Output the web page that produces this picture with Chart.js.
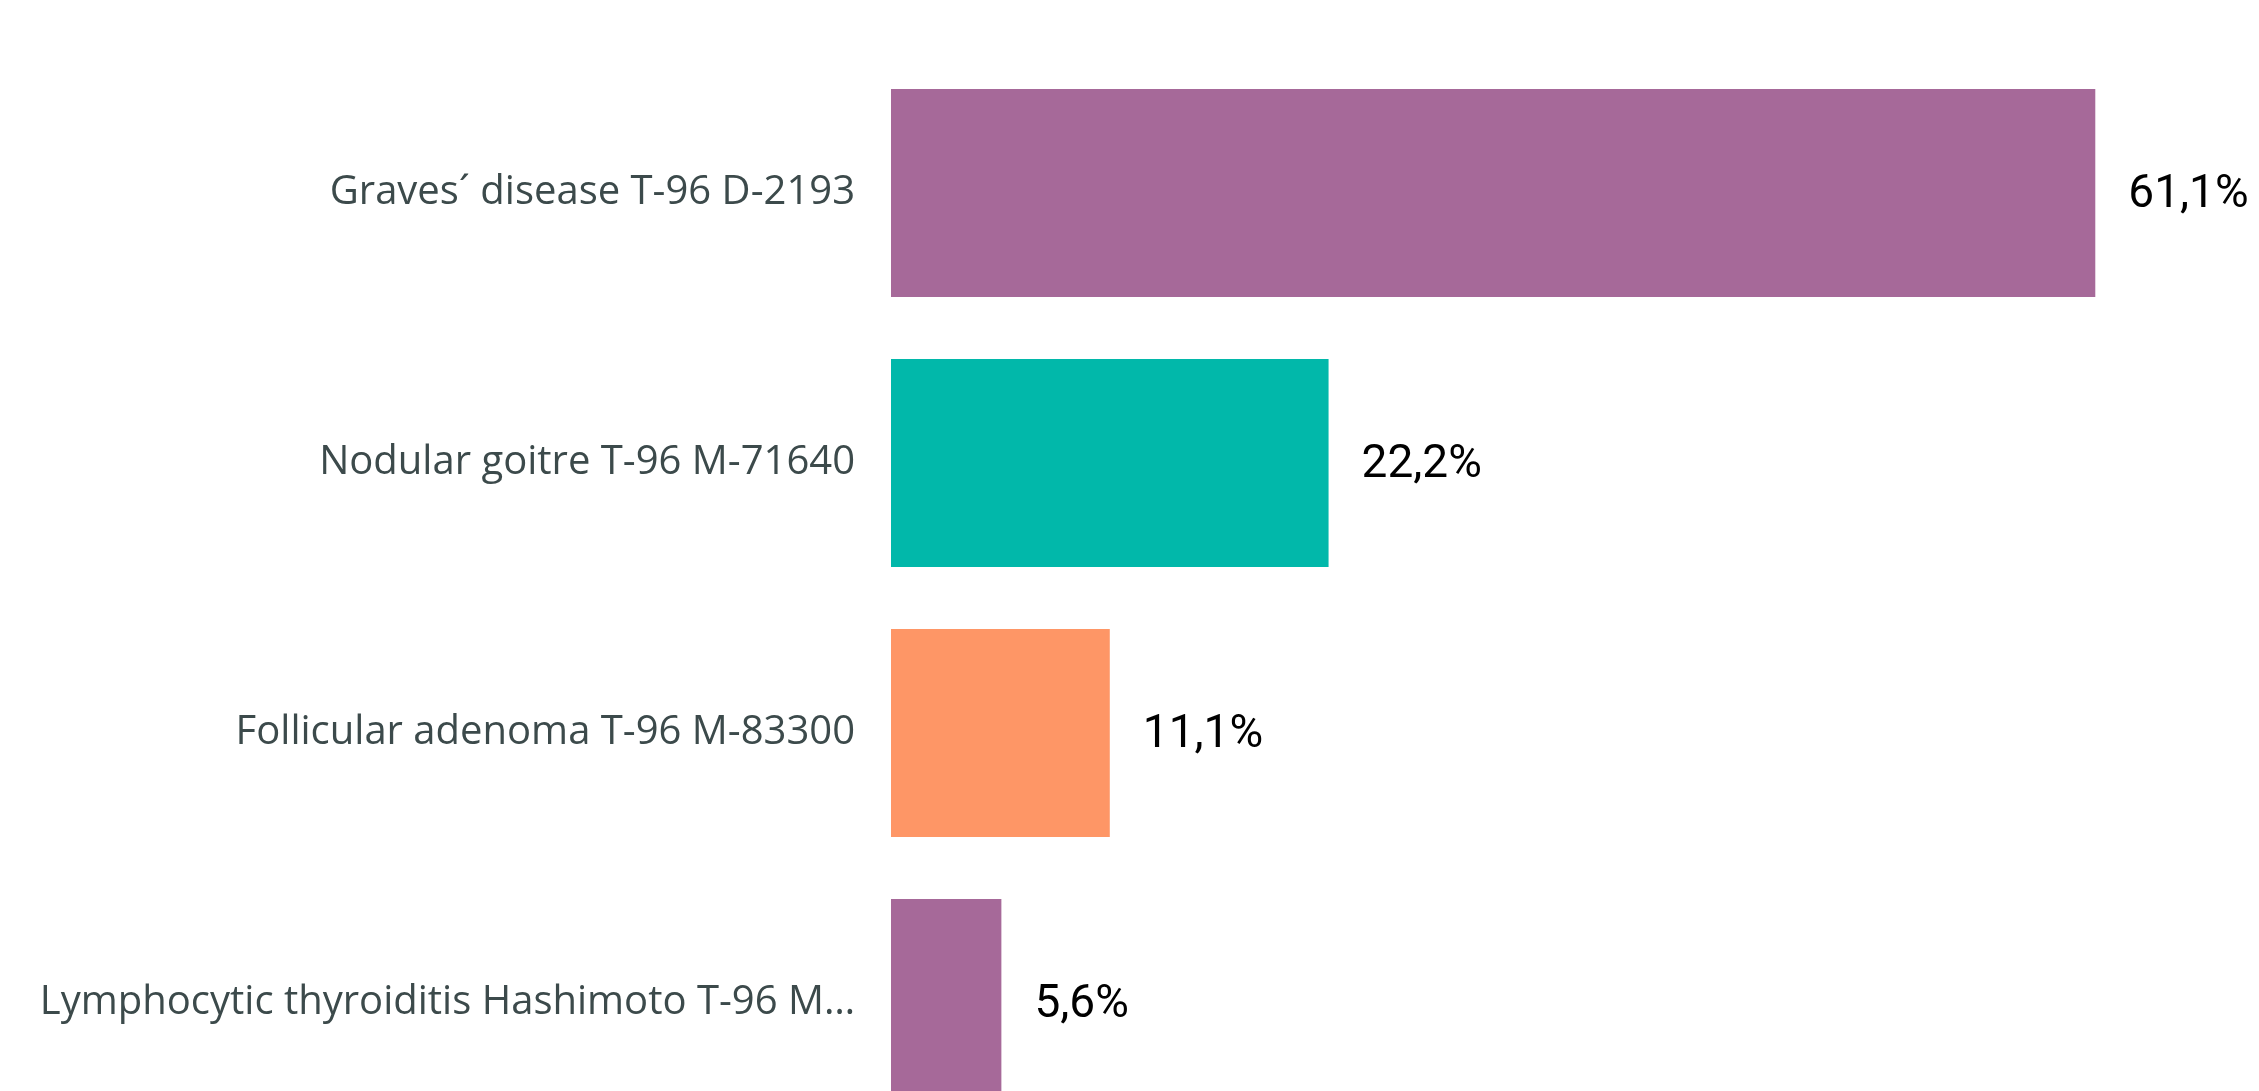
<!DOCTYPE html>
<html>
<head>
<meta charset="utf-8">
<script src="https://cdn.jsdelivr.net/npm/chart.js@4"></script>
<style>
  html, body { margin: 0; padding: 0; background: #fff; overflow: hidden; }
  canvas { display: block; }
</style>
</head>
<body>
<canvas id="diagnosisChart" width="2259" height="1140"></canvas>
<script>
const categories = [
  'Graves\u00b4 disease T-96 D-2193',
  'Nodular goitre T-96 M-71640',
  'Follicular adenoma T-96 M-83300',
  'Lymphocytic thyroiditis Hashimoto T-96 M\u2026'
];
const shares = [61.1, 22.2, 11.1, 5.6];
const barColors = ['#A66999', '#01B8AA', '#FE9666', '#A66999'];

// value labels to the right of each bar
const valueLabels = {
  id: 'valueLabels',
  afterDatasetsDraw(chart) {
    const c = chart.ctx;
    const meta = chart.getDatasetMeta(0);
    c.save();
    c.font = '46px Roboto';
    c.fillStyle = '#000';
    c.textAlign = 'left';
    c.textBaseline = 'middle';
    meta.data.forEach((bar, i) => {
      const txt = shares[i].toFixed(1).replace('.', ',') + '%';
      c.fillText(txt, bar.x + 33, bar.y + 2);
    });
    c.restore();
  }
};

const ctx = document.getElementById('diagnosisChart').getContext('2d');
// canvas is a bit taller than the window: the last bar gets cut at the bottom like the source
const diagnosisChart = new Chart(ctx, {
  type: 'bar',
  data: {
    labels: categories,
    datasets: [{
      data: shares,
      backgroundColor: barColors,
      borderWidth: 0,
      categoryPercentage: 0.77,
      barPercentage: 1
    }]
  },
  options: {
    indexAxis: 'y',
    responsive: false,
    animation: false,
    layout: { padding: { top: 58, bottom: 2, left: 0, right: 8 } },
    plugins: {
      legend: { display: false },
      tooltip: { enabled: false }
    },
    scales: {
      x: {
        display: false,
        min: 0,
        max: 69
      },
      y: {
        grid: { display: false, drawTicks: false },
        border: { display: false },
        ticks: {
          padding: 36,
          color: '#3C4A4B',
          font: { family: 'Open Sans', size: 40 }
        },
        afterFit(scale) {
          scale.width = 891;
          scale.paddingTop = 0;
          scale.paddingBottom = 0;
        }
      }
    }
  },
  plugins: [valueLabels]
});
</script>
</body>
</html>
